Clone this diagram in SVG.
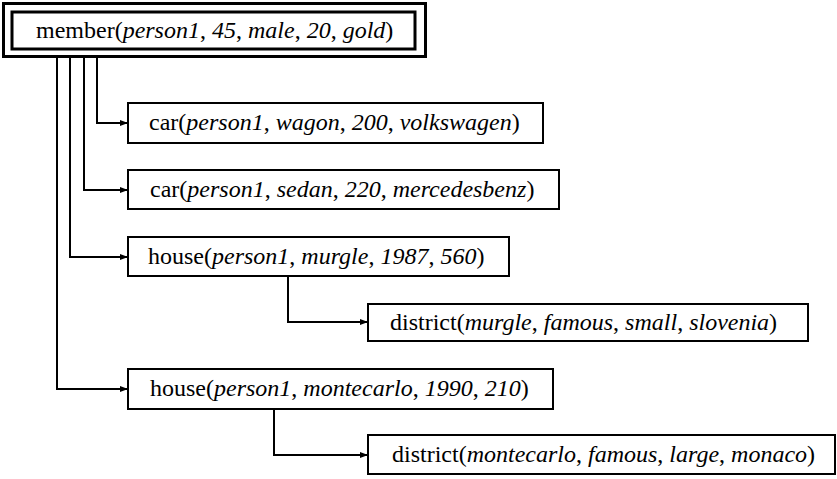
<svg xmlns="http://www.w3.org/2000/svg" width="837" height="479" viewBox="0 0 837 479">
<defs>
<marker id="ah" markerWidth="8" markerHeight="6" refX="8" refY="3" orient="auto" markerUnits="userSpaceOnUse">
<path d="M0,0 L8,3 L0,6 Z" fill="#000"/>
</marker>
<style>
.box{fill:#fff;stroke:#000;stroke-width:2}
.dbl{fill:#fff;stroke:#000;stroke-width:3}
.c{fill:none;stroke:#000;stroke-width:2}
</style>
</defs>
<rect width="837" height="479" fill="#fff"/>
<g id="connectors">
<path class="c" d="M97,57 V123 H128" marker-end="url(#ah)"/>
<path class="c" d="M84,57 V190 H128" marker-end="url(#ah)"/>
<path class="c" d="M70,57 V257 H128" marker-end="url(#ah)"/>
<path class="c" d="M57,57 V389 H128" marker-end="url(#ah)"/>
<path class="c" d="M288,276 V322 H368" marker-end="url(#ah)"/>
<path class="c" d="M274,409 V455 H368" marker-end="url(#ah)"/>
</g>
<g id="member">
<rect class="dbl" x="3.5" y="3.5" width="422" height="53"/>
<rect class="dbl" x="12" y="12" width="403" height="37"/>
<text font-family="Liberation Serif" font-size="24" x="36" y="38">member(<tspan font-style="italic">person1</tspan>, <tspan font-style="italic">45</tspan>, <tspan font-style="italic">male</tspan>, <tspan font-style="italic">20</tspan>, <tspan font-style="italic">gold</tspan>)</text>
</g>
<g id="car1">
<rect class="box" x="128" y="103" width="415" height="40"/>
<text font-family="Liberation Serif" font-size="24" x="149" y="130">car(<tspan font-style="italic">person1</tspan>, <tspan font-style="italic">wagon</tspan>, <tspan font-style="italic">200</tspan>, <tspan font-style="italic">volkswagen</tspan>)</text>
</g>
<g id="car2">
<rect class="box" x="128" y="170" width="431" height="39"/>
<text font-family="Liberation Serif" font-size="24" x="150" y="197">car(<tspan font-style="italic">person1</tspan>, <tspan font-style="italic">sedan</tspan>, <tspan font-style="italic">220</tspan>, <tspan font-style="italic">mercedesbenz</tspan>)</text>
</g>
<g id="house1">
<rect class="box" x="128" y="237" width="381" height="39"/>
<text font-family="Liberation Serif" font-size="24" x="148" y="264">house(<tspan font-style="italic">person1</tspan>, <tspan font-style="italic">murgle</tspan>, <tspan font-style="italic">1987</tspan>, <tspan font-style="italic">560</tspan>)</text>
</g>
<g id="district1">
<rect class="box" x="368" y="304" width="440" height="37"/>
<text font-family="Liberation Serif" font-size="24" x="390" y="330">district(<tspan font-style="italic">murgle</tspan>, <tspan font-style="italic">famous</tspan>, <tspan font-style="italic">small</tspan>, <tspan font-style="italic">slovenia</tspan>)</text>
</g>
<g id="house2">
<rect class="box" x="128" y="369" width="425" height="40"/>
<text font-family="Liberation Serif" font-size="24" x="150" y="396">house(<tspan font-style="italic">person1</tspan>, <tspan font-style="italic">montecarlo</tspan>, <tspan font-style="italic">1990</tspan>, <tspan font-style="italic">210</tspan>)</text>
</g>
<g id="district2">
<rect class="box" x="368" y="435" width="467" height="39"/>
<text font-family="Liberation Serif" font-size="24" x="392" y="462">district(<tspan font-style="italic">montecarlo</tspan>, <tspan font-style="italic">famous</tspan>, <tspan font-style="italic">large</tspan>, <tspan font-style="italic">monaco</tspan>)</text>
</g>
</svg>
